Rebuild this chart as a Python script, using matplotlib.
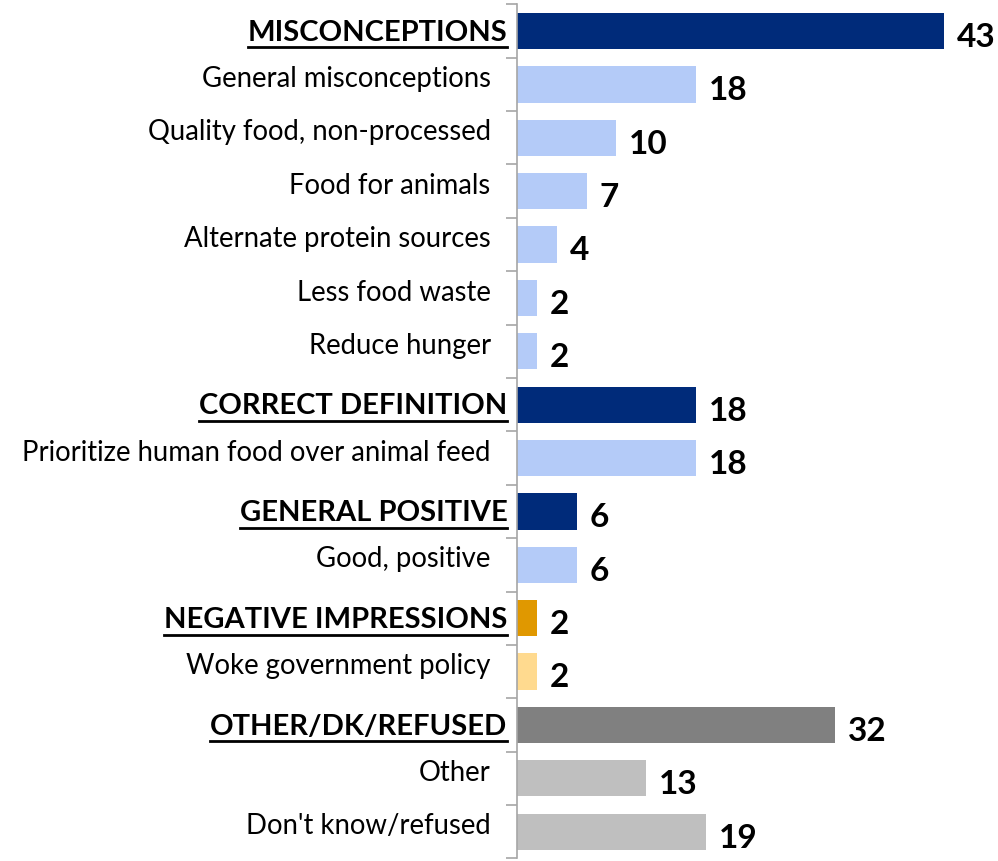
import matplotlib
matplotlib.use('Agg')
import matplotlib.pyplot as plt
from matplotlib.lines import Line2D
import numpy as np

# Response categories, top to bottom
labels = ['MISCONCEPTIONS', 'General misconceptions', 'Quality food, non-processed',
          'Food for animals', 'Alternate protein sources', 'Less food waste',
          'Reduce hunger', 'CORRECT DEFINITION', 'Prioritize human food over animal feed',
          'GENERAL POSITIVE', 'Good, positive', 'NEGATIVE IMPRESSIONS',
          'Woke government policy', 'OTHER/DK/REFUSED', 'Other', "Don't know/refused"]
values = [43, 18, 10, 7, 4, 2, 2, 18, 18, 6, 6, 2, 2, 32, 13, 19]
is_header = [True, False, False, False, False, False, False, True, False,
             True, False, True, False, True, False, False]
colors = ['#002B7A', '#B4CBF8', '#B4CBF8', '#B4CBF8', '#B4CBF8', '#B4CBF8',
          '#B4CBF8', '#002B7A', '#B4CBF8', '#002B7A', '#B4CBF8', '#E09800',
          '#FFDA8F', '#808080', '#BFBFBF', '#BFBFBF']

plt.rcParams['font.family'] = ['Lato', 'DejaVu Sans']

fig = plt.figure(figsize=(9.98, 8.61), dpi=100)
ax = fig.add_axes([0.518, 0.003, 0.478, 0.992])

y = np.arange(len(values))
ax.barh(y, values, height=0.68, color=colors)
ax.set_ylim(len(values) - 0.5, -0.5)
ax.set_xlim(0, 48)

# Axis styling: only the left spine with small outward ticks between rows
for s in ['top', 'right', 'bottom']:
    ax.spines[s].set_visible(False)
ax.spines['left'].set_color('#A6A6A6')
ax.spines['left'].set_linewidth(1.2)
ax.set_xticks([])
ax.set_yticks(np.arange(len(values) + 1) - 0.5)
ax.set_yticklabels([])
ax.tick_params(axis='y', length=8, width=1.2, color='#A6A6A6', direction='out')

# Value labels at the end of each bar
for yi, v, h in zip(y, values, is_header):
    ax.text(v + 1.3, yi + 0.12, str(v), va='center', ha='left',
            fontsize=24, fontweight='bold', color='black')

# Category labels, headers bold and underlined
fig.canvas.draw()
renderer = fig.canvas.get_renderer()
for yi, lab, h in zip(y, labels, is_header):
    if h:
        t = ax.text(-0.02, yi + 0.03, lab, transform=ax.get_yaxis_transform(),
                    ha='right', va='center', fontsize=21, fontweight='bold')
        bb = t.get_window_extent(renderer).transformed(fig.transFigure.inverted())
        uy = bb.y0 - 0.002
        fig.add_artist(Line2D([bb.x0, bb.x1], [uy, uy], transform=fig.transFigure,
                              color='black', linewidth=2))
    else:
        ax.text(-0.055, yi - 0.1, lab, transform=ax.get_yaxis_transform(),
                ha='right', va='center', fontsize=19.8)

plt.savefig('out.png', dpi=100)
